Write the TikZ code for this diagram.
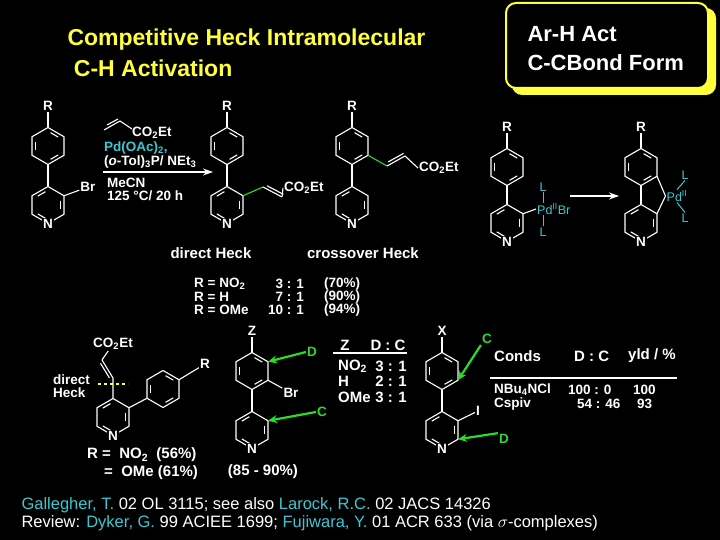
\documentclass[tikz,border=0pt]{standalone}
\usepackage{fontspec}
\setmainfont{Liberation Sans}
\usetikzlibrary{arrows.meta,calc}
\definecolor{hlcyan}{RGB}{60,200,210}
\definecolor{hlgreen}{RGB}{40,220,40}
\definecolor{hlyellow}{RGB}{255,255,60}
\newcommand{\sub}[1]{\textsubscript{#1}}
% hexagon ring: centre x, centre y, name, inner double bonds
\newcommand{\hexring}[4]{%
  \coordinate (#3) at (#1,#2);
  \coordinate (#3-1) at (#1,#2-18.5);
  \coordinate (#3-2) at (#1+16,#2-9.25);
  \coordinate (#3-3) at (#1+16,#2+9.25);
  \coordinate (#3-4) at (#1,#2+18.5);
  \coordinate (#3-5) at (#1-16,#2+9.25);
  \coordinate (#3-6) at (#1-16,#2-9.25);
  \draw[bond] (#3-1)--(#3-2)--(#3-3)--(#3-4)--(#3-5)--(#3-6)--cycle;
  \foreach \a/\b in {#4}
    \draw[bond,shorten >=3pt,shorten <=3pt] ($(#3-\a)!.2!(#3)$) -- ($(#3-\b)!.2!(#3)$);
}
\begin{document}
\begin{tikzpicture}[x=1pt,y=-1pt,
  bond/.style={white,line width=1.1pt},
  lbl/.style={text=white,font=\fontsize{13.5}{14}\selectfont\bfseries,inner sep=1pt},
  tbl/.style={text=white,font=\fontsize{15}{16}\selectfont\bfseries,inner sep=0pt},
  row/.style={text=white,font=\fontsize{13.5}{14}\selectfont\bfseries,inner sep=0pt},
  pdlbl/.style={text=hlcyan,font=\fontsize{12.5}{13}\selectfont,inner sep=1pt},
  atom/.style={lbl,fill=black},
  hint/.style={hlgreen,line width=2.2pt,-{Stealth[length=9pt,width=8pt]}},
  arr/.style={white,line width=1.3pt,-{Stealth[length=10pt,width=7pt]}}]
  \fill[black] (0,0) rectangle (720,540);
  \useasboundingbox (0,0) rectangle (720,540);

  % title and box
  \node[anchor=west,text=hlyellow,font=\fontsize{23}{24}\selectfont\bfseries] (title1) at (64,40) {Competitive Heck Intramolecular};
  \node[anchor=west,text=hlyellow,font=\fontsize{23}{24}\selectfont\bfseries] (title2) at (64,68) {\ C-H Activation};
  \fill[hlyellow,rounded corners=10pt] (512,8) rectangle (716,95);
  \draw[hlyellow,fill=black,line width=2pt,rounded corners=10pt] (506,3) rectangle (708,88);
  \node[anchor=west,text=white,font=\fontsize{22}{23}\selectfont\bfseries] (box1) at (524,34) {Ar-H Act};
  \node[anchor=west,text=white,font=\fontsize{22}{23}\selectfont\bfseries] (box2) at (524,63) {C-CBond Form};

  % starting bromide
  \hexring{48}{146}{sa}{1/2,3/4,5/6}
  \hexring{48}{205}{sb}{6/1,2/3,4/5}
  \draw[bond] (sa-4) -- (sb-1);
  \node[atom] (sn) at (sb-4) {N};
  \node[lbl] (sr) at (48,106) {R};
  \draw[bond] (sa-1) -- (sr);
  \node[lbl] (sbr) at (88,187) {Br};
  \draw[bond] (sb-2) -- (sbr);

  % reagents
  \draw[bond] (104,130) -- (120,121) -- (132,129);
  \draw[bond] (107,125) -- (118,119);
  \node[lbl,anchor=west] (acr) at (131,133) {CO\sub{2}Et};
  \node[lbl,anchor=west,text=hlcyan] (pd) at (103,148) {Pd(OAc)\sub{2},};
  \node[lbl,anchor=west] (tol) at (103,162) {(\textit{o}-Tol)\sub{3}P/ NEt\sub{3}};
  \coordinate (a1s) at (103,172);
  \coordinate (a1e) at (213,172);
  \draw[arr] (a1s) -- (a1e);
  \node[lbl,anchor=west] (mecn) at (106,183) {MeCN};
  \node[lbl,anchor=west] (temp) at (106,196) {125 °C/ 20 h};

  % direct Heck product
  \hexring{227}{146}{da}{1/2,3/4,5/6}
  \hexring{227}{205}{db}{6/1,2/3,4/5}
  \draw[bond] (da-4) -- (db-1);
  \node[atom] (dn) at (db-4) {N};
  \node[lbl] (dr) at (227,106) {R};
  \draw[bond] (da-1) -- (dr);
  \coordinate (dv1) at (263,187);
  \coordinate (dv2) at (282,197);
  \draw[hlgreen,line width=1.1pt] (db-2) -- (dv1);
  \draw[bond] (dv1) -- (dv2);
  \draw[bond,shorten <=3pt] ($(dv1)!3pt!90:(dv2)$) -- ($(dv2)!3pt!-90:(dv1)$);
  \node[lbl,anchor=west] (dco) at (283,188) {CO\sub{2}Et};
  \draw[bond] (dv2) -- (dco.west);

  % crossover Heck product
  \hexring{352}{146}{ca}{1/2,3/4,5/6}
  \hexring{352}{205}{cb}{6/1,2/3,4/5}
  \draw[bond] (ca-4) -- (cb-1);
  \node[atom] (cn) at (cb-4) {N};
  \node[lbl] (cr) at (352,106) {R};
  \draw[bond] (ca-1) -- (cr);
  \coordinate (cv1) at (387,166);
  \coordinate (cv2) at (405,156);
  \draw[hlgreen,line width=1.1pt] (ca-3) -- (cv1);
  \draw[bond] (cv1) -- (cv2);
  \draw[bond,shorten <=3pt] ($(cv1)!3pt!90:(cv2)$) -- ($(cv2)!3pt!-90:(cv1)$);
  \node[lbl,anchor=west] (cco) at (418,168) {CO\sub{2}Et};
  \draw[bond] (cv2) -- (cco.west);

  \node[tbl] (dh) at (211,253) {direct Heck};
  \node[tbl] (ch) at (363,253) {crossover Heck};
  \foreach \y/\r/\q/\p in {284/NO\sub{2}/3 : 1/(70\%),297/H/7 : 1/(90\%),310/OMe/10 : 1/(94\%)}{
    \node[row,anchor=west] at (194,\y) {R = \r};
    \node[row,anchor=east] at (304,\y) {\q};
    \node[row,anchor=west] at (324,\y) {\p};
  }

  % palladium intermediates
  \hexring{507}{167}{pa}{1/2,3/4,5/6}
  \hexring{507}{223}{pb}{6/1,2/3,4/5}
  \draw[bond] (pa-4) -- (pb-1);
  \node[atom] (pn) at (pb-4) {N};
  \node[lbl] (pr) at (507,127) {R};
  \draw[bond] (pa-1) -- (pr);
  \node[pdlbl,anchor=west] (pd1) at (536,209) {Pd\textsuperscript{II}Br};
  \node[pdlbl] (l1a) at (543,187) {L};
  \node[pdlbl] (l1b) at (543,232) {L};
  \draw[bond] (pb-2) -- (pd1.west);
  \draw[hlcyan,line width=1pt] (l1a.south) -- (l1a.south |- pd1.north);
  \draw[hlcyan,line width=1pt] (l1b.north) -- (l1b.north |- pd1.south);
  \coordinate (a2s) at (570,196);
  \coordinate (a2e) at (619,196);
  \draw[arr] (a2s) -- (a2e);

  \hexring{641}{167}{qa}{1/2,3/4,5/6}
  \hexring{641}{223}{qb}{6/1,2/3,4/5}
  \draw[bond] (qa-4) -- (qb-1);
  \node[atom] (qn) at (qb-4) {N};
  \node[lbl] (qr) at (641,127) {R};
  \draw[bond] (qa-1) -- (qr);
  \node[pdlbl] (pd2) at (677,196) {Pd\textsuperscript{II}};
  \node[pdlbl] (l2a) at (685,175) {L};
  \node[pdlbl] (l2b) at (685,218) {L};
  \draw[bond] (qa-3) -- (pd2.west);
  \draw[bond] (qb-2) -- (pd2.west);
  \draw[hlcyan,line width=1pt] (l2a.south) -- (pd2.north);
  \draw[hlcyan,line width=1pt] (l2b.north) -- (pd2.south);

  % meta biaryl
  \hexring{113}{417}{ma}{6/1,2/3,4/5}
  \hexring{163}{389}{mb}{1/2,3/4,5/6}
  \draw[bond] (ma-2) -- (mb-5);
  \node[atom] (mn) at (ma-4) {N};
  \node[lbl] (mr) at (205,364) {R};
  \draw[bond] (mb-2) -- (mr);
  \coordinate (mv1) at (113,378);
  \coordinate (mv2) at (102,360);
  \draw[bond] (ma-1) -- (mv1) -- (mv2);
  \draw[bond,shorten <=2pt,shorten >=2pt] ($(mv1)!3pt!90:(mv2)$) -- ($(mv2)!3pt!-90:(mv1)$);
  \node[lbl] (mco) at (113,344) {CO\sub{2}Et};
  \draw[bond] (mv2) -- (mco);
  \draw[hlyellow,line width=1.3pt,dashed] (98,384) -- (128,384);
  \node[lbl,anchor=west] (md1) at (52,380) {direct};
  \node[lbl,anchor=west] (md2) at (52,393) {Heck};
  \node[tbl,anchor=west] (my1) at (87,455) {R = \ NO\sub{2} \ (56\%)};
  \node[tbl,anchor=west] (my2) at (104,473) {= \ OMe (61\%)};

  % Z series
  \hexring{252}{371}{za}{1/2,3/4,5/6}
  \hexring{252}{430}{zb}{6/1,2/3,4/5}
  \draw[bond] (za-4) -- (zb-1);
  \node[atom] (zn) at (zb-4) {N};
  \node[lbl] (zz) at (252,331) {Z};
  \draw[bond] (za-1) -- (zz);
  \node[lbl] (zbr) at (291,393) {Br};
  \draw[bond] (za-3) -- (zbr);
  \node[lbl,text=hlgreen] (zd) at (312,352) {D};
  \node[lbl,text=hlgreen] (zc) at (322,412) {C};
  \draw[hint] (zd.west) -- (za-2);
  \draw[hint] (zc.west) -- (zb-2);
  \node[tbl] (zy) at (263,472) {(85 - 90\%)};
  \node[tbl] (zh1) at (345,345) {Z};
  \node[tbl] (zh2) at (388,345) {D : C};
  \draw[white,line width=1.3pt] (333,353) -- (407,353);
  \foreach \y/\s/\q in {366/NO\sub{2}/3 : 1,381/H/2 : 1,397/OMe/3 : 1}{
    \node[tbl,anchor=west] at (338,\y) {\s};
    \node[tbl,anchor=east] at (407,\y) {\q};
  }

  % X series
  \hexring{442}{371}{xa}{1/2,3/4,5/6}
  \hexring{442}{430}{xb}{6/1,2/3,4/5}
  \draw[bond] (xa-4) -- (xb-1);
  \node[atom] (xn) at (xb-4) {N};
  \node[lbl] (xx) at (442,331) {X};
  \draw[bond] (xa-1) -- (xx);
  \node[lbl] (xi) at (478,411) {I};
  \draw[bond] (xb-2) -- (xi);
  \node[lbl,text=hlgreen] (xc) at (487,339) {C};
  \node[lbl,text=hlgreen] (xd) at (504,439) {D};
  \draw[hint] (xc.south west) -- (xa-3);
  \draw[hint] (xd.north west) -- (xb-3);
  \node[tbl,anchor=west] (ch1) at (494,356) {Conds};
  \node[tbl,anchor=west] (ch2) at (574,356) {D : C};
  \node[tbl,anchor=west] (ch3) at (628,356) {yld / \%};
  \draw[white,line width=1.3pt] (490,378) -- (677,378);
  \node[row,anchor=west] (cr1) at (494,390) {NBu\sub{4}NCl};
  \node[row,anchor=west] (cr2) at (568,390) {100 : 0};
  \node[row,anchor=west] (cr3) at (633,390) {100};
  \node[row,anchor=west] (cr4) at (494,404) {Cspiv};
  \node[row,anchor=west] (cr5) at (577,404) {54 : 46};
  \node[row,anchor=west] (cr6) at (637,404) {93};

  % references
  \node[anchor=west,text=white,font=\fontsize{16.5}{17}\selectfont] (ref1) at (18,505)
    {\textcolor{hlcyan}{Gallegher, T.} 02 OL 3115; see also \textcolor{hlcyan}{Larock, R.C.} 02 JACS 14326};
  \node[anchor=west,text=white,font=\fontsize{16.5}{17}\selectfont] (ref2) at (18,523)
    {Review: \textcolor{hlcyan}{Dyker, G.} 99 ACIEE 1699; \textcolor{hlcyan}{Fujiwara, Y.} 01 ACR 633 (via $\sigma$-complexes)};
\end{tikzpicture}
\end{document}
